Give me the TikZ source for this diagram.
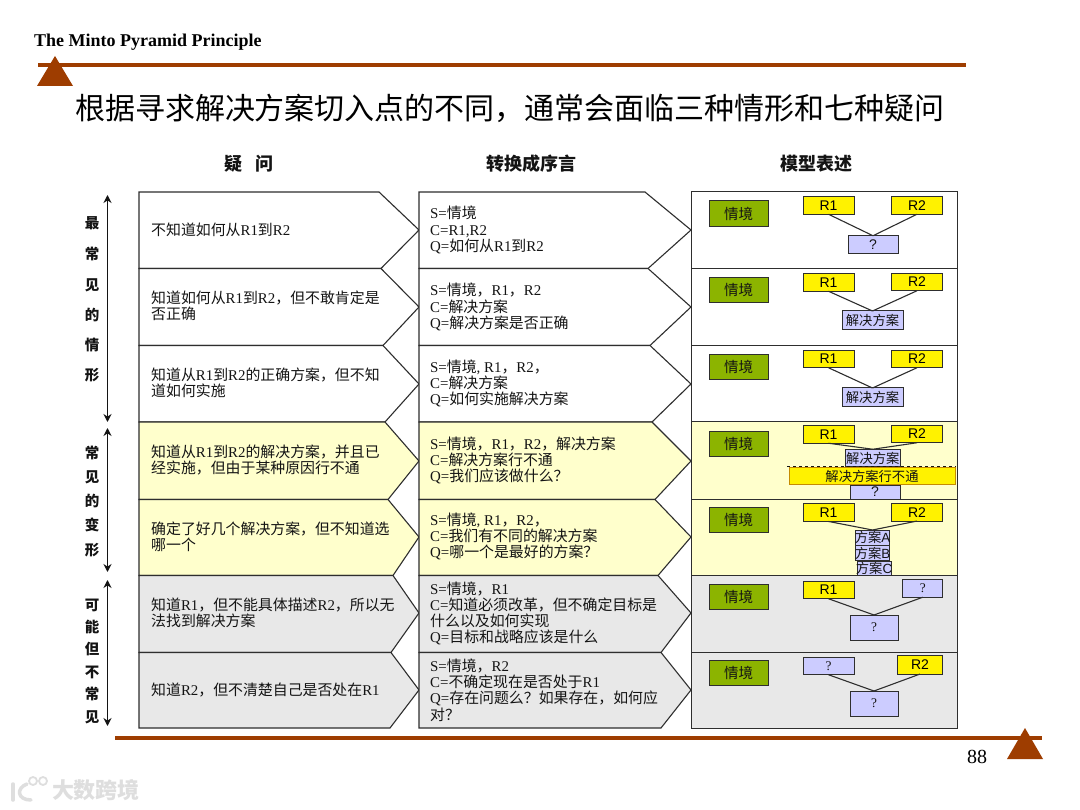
\documentclass[tikz,border=0pt]{standalone}
\usepackage{fontspec}
\setmainfont{Noto Sans CJK SC}
\newfontfamily\latserif{Liberation Serif}
\newfontfamily\latsans{Liberation Sans}
\newcommand{\ltn}[1]{{\latserif #1}}
\usetikzlibrary{arrows.meta}
\definecolor{Rule}{HTML}{9E3D00}
\definecolor{Ink}{HTML}{141414}
\definecolor{Frame}{HTML}{2E2E2E}
\definecolor{SoftYellow}{HTML}{FFFFCC}
\definecolor{SoftGray}{HTML}{E8E8E8}
\definecolor{Olive}{HTML}{8CB400}
\definecolor{Lavender}{HTML}{CCCCFF}
\definecolor{Mark}{HTML}{DEDEDE}

\begin{document}
\begin{tikzpicture}[x=1pt,y=-1pt,
  rulebar/.style={draw=Rule,line width=4pt},
  peak/.style={fill=Rule},
  chev/.style={draw=Frame,line width=1.1pt,line join=miter},
  cell/.style={draw=Frame,line width=1pt},
  heading/.style={font=\fontsize{18}{20}\selectfont\bfseries,text=Ink},
  sidechar/.style={font=\fontsize{14.5}{16}\selectfont\bfseries,text=Ink,inner sep=0pt},
  span/.style={draw=Ink,line width=1.6pt,{Stealth[length=8pt,width=8pt]}-{Stealth[length=8pt,width=8pt]}},
  asktext/.style={anchor=west,inner sep=0pt,align=left,text=Ink,font=\fontsize{14.9}{16.2}\selectfont},
  sitbox/.style={draw=Frame,fill=Olive,line width=1pt,inner sep=0pt,outer sep=0pt,minimum width=59pt,minimum height=25.5pt,text=Ink,font=\fontsize{14.5}{16}\selectfont},
  rbox/.style={draw=Frame,fill=yellow,line width=1pt,inner sep=0pt,outer sep=0pt,minimum width=51pt,minimum height=17.5pt,text=black,font=\fontsize{14}{16}\latsans},
  qbox/.style={draw=Frame,fill=Lavender,line width=1pt,inner sep=0pt,outer sep=0pt,minimum width=50pt,minimum height=17.5pt,text=Ink,font=\fontsize{14}{16}\latsans},
  solbox/.style={draw=Frame,fill=Lavender,line width=1pt,inner sep=0pt,outer sep=0pt,minimum width=61pt,minimum height=19pt,text=Ink,font=\fontsize{13.3}{16}\selectfont},
  optbox/.style={draw=Frame,fill=Lavender,line width=1pt,inner sep=0pt,outer sep=0pt,minimum width=34pt,minimum height=15pt,text=Ink,font=\fontsize{13.3}{16}\selectfont},
  tie/.style={draw=Frame,line width=1.1pt}
]
\useasboundingbox (0,0) rectangle (1080,810);
\fill[white] (0,0) rectangle (1080,810);
\draw[rulebar] (38,65) -- (966,65);
\draw[rulebar] (115,738) -- (1042,738);
\fill[peak] (55,56) -- (73,86) -- (37,86) -- cycle;
\fill[peak] (1025,728) -- (1043,759) -- (1007,759) -- cycle;
\node[anchor=west,inner sep=0pt,text=black,font=\fontsize{18}{20}\latserif\bfseries] (brand) at (34,42.5) {The Minto Pyramid Principle};
\node[inner sep=0pt,text=black,font=\fontsize{30}{34}\selectfont] (title) at (510,108) {根据寻求解决方案切入点的不同，通常会面临三种情形和七种疑问};
\node[inner sep=0pt,text=black,font=\fontsize{20}{22}\latserif] (pageno) at (977,757) {88};
\node[heading] (headask) at (249,164) {疑\hspace{14pt}问};
\node[heading] (headintro) at (531,164) {转换成序言};
\node[heading] (headmodel) at (816,164) {模型表述};
% side labels
\coordinate (g1a) at (107.5,195); \coordinate (g1b) at (107.5,422);
\coordinate (g2a) at (107.5,428); \coordinate (g2b) at (107.5,572);
\coordinate (g3a) at (107.5,580); \coordinate (g3b) at (107.5,726);
\draw[span] (g1a) -- (g1b);
\draw[span] (g2a) -- (g2b);
\draw[span] (g3a) -- (g3b);
\node[sidechar] (a1) at (92,223) {最}; \node[sidechar] (a2) at (92,254) {常}; \node[sidechar] (a3) at (92,285) {见};
\node[sidechar] (a4) at (92,315) {的}; \node[sidechar] (a5) at (92,345) {情}; \node[sidechar] (a6) at (92,375) {形};
\node[sidechar] (b1) at (92,453) {常}; \node[sidechar] (b2) at (92,477) {见}; \node[sidechar] (b3) at (92,501) {的};
\node[sidechar] (b4) at (92,525) {变}; \node[sidechar] (b5) at (92,550) {形};
\node[sidechar] (c1) at (92,605) {可}; \node[sidechar] (c2) at (92,627) {能}; \node[sidechar] (c3) at (92,649) {但};
\node[sidechar] (c4) at (92,672) {不}; \node[sidechar] (c5) at (92,694) {常}; \node[sidechar] (c6) at (92,717) {见};
% question column
\draw[chev,fill=white] (139,192) -- (379,192) -- (419,230) -- (381,268.5) -- (139,268.5) -- cycle;
\draw[chev,fill=white] (139,268.5) -- (381,268.5) -- (419,307) -- (383,345.5) -- (139,345.5) -- cycle;
\draw[chev,fill=white] (139,345.5) -- (383,345.5) -- (419,384) -- (385,422) -- (139,422) -- cycle;
\draw[chev,fill=SoftYellow] (139,422) -- (385,422) -- (419,461) -- (388,499.5) -- (139,499.5) -- cycle;
\draw[chev,fill=SoftYellow] (139,499.5) -- (388,499.5) -- (419,537) -- (393,575.5) -- (139,575.5) -- cycle;
\draw[chev,fill=SoftGray] (139,575.5) -- (393,575.5) -- (419,613) -- (391,652.5) -- (139,652.5) -- cycle;
\draw[chev,fill=SoftGray] (139,652.5) -- (391,652.5) -- (419,690) -- (390,728) -- (139,728) -- cycle;
\node[asktext] (ask1) at (151,230) {不知道如何从\ltn{R1}到\ltn{R2}};
\node[asktext] (ask2) at (151,306) {知道如何从\ltn{R1}到\ltn{R2}，但不敢肯定是\\否正确};
\node[asktext] (ask3) at (151,383) {知道从\ltn{R1}到\ltn{R2}的正确方案，但不知\\道如何实施};
\node[asktext] (ask4) at (151,460) {知道从\ltn{R1}到\ltn{R2}的解决方案，并且已\\经实施，但由于某种原因行不通};
\node[asktext] (ask5) at (151,537) {确定了好几个解决方案，但不知道选\\哪一个};
\node[asktext] (ask6) at (151,613) {知道\ltn{R1}，但不能具体描述\ltn{R2}，所以无\\法找到解决方案};
\node[asktext] (ask7) at (151,690) {知道\ltn{R2}，但不清楚自己是否处在\ltn{R1}};
% intro column
\draw[chev,fill=white] (419,192) -- (645,192) -- (691,230) -- (648,268.5) -- (419,268.5) -- cycle;
\draw[chev,fill=white] (419,268.5) -- (648,268.5) -- (691,307) -- (650,345.5) -- (419,345.5) -- cycle;
\draw[chev,fill=white] (419,345.5) -- (650,345.5) -- (691,384) -- (652,422) -- (419,422) -- cycle;
\draw[chev,fill=SoftYellow] (419,422) -- (652,422) -- (691,461) -- (655,499.5) -- (419,499.5) -- cycle;
\draw[chev,fill=SoftYellow] (419,499.5) -- (655,499.5) -- (691,537) -- (658,575.5) -- (419,575.5) -- cycle;
\draw[chev,fill=SoftGray] (419,575.5) -- (658,575.5) -- (691,613) -- (661,652.5) -- (419,652.5) -- cycle;
\draw[chev,fill=SoftGray] (419,652.5) -- (661,652.5) -- (691,690) -- (661,728) -- (419,728) -- cycle;
\node[asktext] (intro1) at (430,230) {\ltn{S=}情境\\\ltn{C=R1,R2}\\\ltn{Q=}如何从\ltn{R1}到\ltn{R2}};
\node[asktext] (intro2) at (430,307) {\ltn{S=}情境，\ltn{R1}，\ltn{R2}\\\ltn{C=}解决方案\\\ltn{Q=}解决方案是否正确};
\node[asktext] (intro3) at (430,383.5) {\ltn{S=}情境\ltn{, R1}，\ltn{R2}，\\\ltn{C=}解决方案\\\ltn{Q=}如何实施解决方案};
\node[asktext] (intro4) at (430,460.5) {\ltn{S=}情境，\ltn{R1}，\ltn{R2}，解决方案\\\ltn{C=}解决方案行不通\\\ltn{Q=}我们应该做什么？};
\node[asktext] (intro5) at (430,536.5) {\ltn{S=}情境\ltn{, R1}，\ltn{R2}，\\\ltn{C=}我们有不同的解决方案\\\ltn{Q=}哪一个是最好的方案？};
\node[asktext] (intro6) at (430,613.5) {\ltn{S=}情境，\ltn{R1}\\\ltn{C=}知道必须改革，但不确定目标是\\什么以及如何实现\\\ltn{Q=}目标和战略应该是什么};
\node[asktext] (intro7) at (430,690) {\ltn{S=}情境，\ltn{R2}\\\ltn{C=}不确定现在是否处于\ltn{R1}\\\ltn{Q=}存在问题么？如果存在，如何应\\对？};
% model column
\draw[cell,fill=white] (691.5,192) rectangle (957,268.5);
\draw[cell,fill=white] (691.5,268.5) rectangle (957,345.5);
\draw[cell,fill=white] (691.5,345.5) rectangle (957,422);
\draw[cell,fill=SoftYellow] (691.5,422) rectangle (957,499.5);
\draw[cell,fill=SoftYellow] (691.5,499.5) rectangle (957,575.5);
\draw[cell,fill=SoftGray] (691.5,575.5) rectangle (957,652.5);
\draw[cell,fill=SoftGray] (691.5,652.5) rectangle (957,728);
\node[sitbox] (sit1) at (738.5,213.5) {情境};
\node[rbox] (ra1) at (828.5,205.5) {R1}; \node[rbox] (rb1) at (917,205.5) {R2};
\node[qbox] (q1) at (873,244.5) {?};
\draw[tie] (ra1.south) -- (q1.north); \draw[tie] (rb1.south) -- (q1.north);
\node[sitbox] (sit2) at (738.5,290) {情境};
\node[rbox] (ra2) at (828.5,282.5) {R1}; \node[rbox] (rb2) at (917,282) {R2};
\node[solbox] (q2) at (872.5,320.5) {解决方案};
\draw[tie] (ra2.south) -- (q2.north); \draw[tie] (rb2.south) -- (q2.north);
\node[sitbox] (sit3) at (738.5,367) {情境};
\node[rbox] (ra3) at (828.5,359) {R1}; \node[rbox] (rb3) at (917,359) {R2};
\node[solbox] (q3) at (872.5,397.5) {解决方案};
\draw[tie] (ra3.south) -- (q3.north); \draw[tie] (rb3.south) -- (q3.north);
\node[sitbox] (sit4) at (738.5,444) {情境};
\node[rbox] (ra4) at (828.5,434.5) {R1}; \node[rbox] (rb4) at (917,434) {R2};
\node[solbox,minimum width=55.5pt,minimum height=17.5pt] (q4) at (872.8,458) {解决方案};
\draw[tie] (ra4.south) -- (q4.north); \draw[tie] (rb4.south) -- (q4.north);
\node[qbox,minimum height=14pt] (ask4q) at (875,492) {?};
\node[solbox,draw=Rule!60!yellow,fill=yellow,minimum width=166pt,minimum height=17.5pt] (fail4) at (872,476.2) {解决方案行不通};
\coordinate (fa) at (787,466.7); \coordinate (fb) at (956,466.7);
\draw[Ink,line width=1.2pt,dashed] (fa) -- (fb);
\node[sitbox] (sit5) at (738.5,520) {情境};
\node[rbox] (ra5) at (828.5,512.7) {R1}; \node[rbox] (rb5) at (917,512.3) {R2};
\node[optbox] (opta) at (872.5,537.5) {\makebox[0pt]{方案\latsans A}};
\node[optbox] (optb) at (872.5,553) {\makebox[0pt]{方案\latsans B}};
\node[optbox,minimum height=14pt] (optc) at (874,568) {\makebox[0pt]{方案\latsans C}};
\draw[tie] (ra5.south) -- (opta.north); \draw[tie] (rb5.south) -- (opta.north);
\node[sitbox] (sit6) at (738.5,596.8) {情境};
\node[rbox] (ra6) at (828.5,590) {R1}; \node[qbox,minimum width=39.5pt,font=\fontsize{13.3}{16}\latserif] (rb6) at (922.7,588.5) {?};
\node[qbox,minimum width=48pt,minimum height=25pt,font=\fontsize{13.3}{16}\latserif] (q6) at (874,627.5) {?};
\draw[tie] (ra6.south) -- (q6.north); \draw[tie] (rb6.south) -- (q6.north);
\node[sitbox] (sit7) at (738.5,672.8) {情境};
\node[qbox,minimum width=51pt,font=\fontsize{13.3}{16}\latserif] (ra7) at (828.5,666) {?}; \node[rbox,minimum width=45pt,minimum height=18.5pt] (rb7) at (920,664.8) {R2};
\node[qbox,minimum width=48pt,minimum height=25pt,font=\fontsize{13.3}{16}\latserif] (q7) at (874,703.5) {?};
\draw[tie] (ra7.south) -- (q7.north); \draw[tie] (rb7.south) -- (q7.north);
% watermark
\node[inner sep=0pt,text=Mark,font=\fontsize{22}{24}\selectfont\bfseries] (stamp) at (96,790) {大数跨境};
\draw[Mark,line width=3.5pt,line cap=round] (13,784) -- (13,800);
\draw[Mark,line width=3.5pt,line cap=round] (27,784) .. controls (16,788) and (17,800) .. (31,800);
\draw[Mark,line width=1.8pt] (33,781) circle (4) (43,781) circle (4);
\end{tikzpicture}
\end{document}
